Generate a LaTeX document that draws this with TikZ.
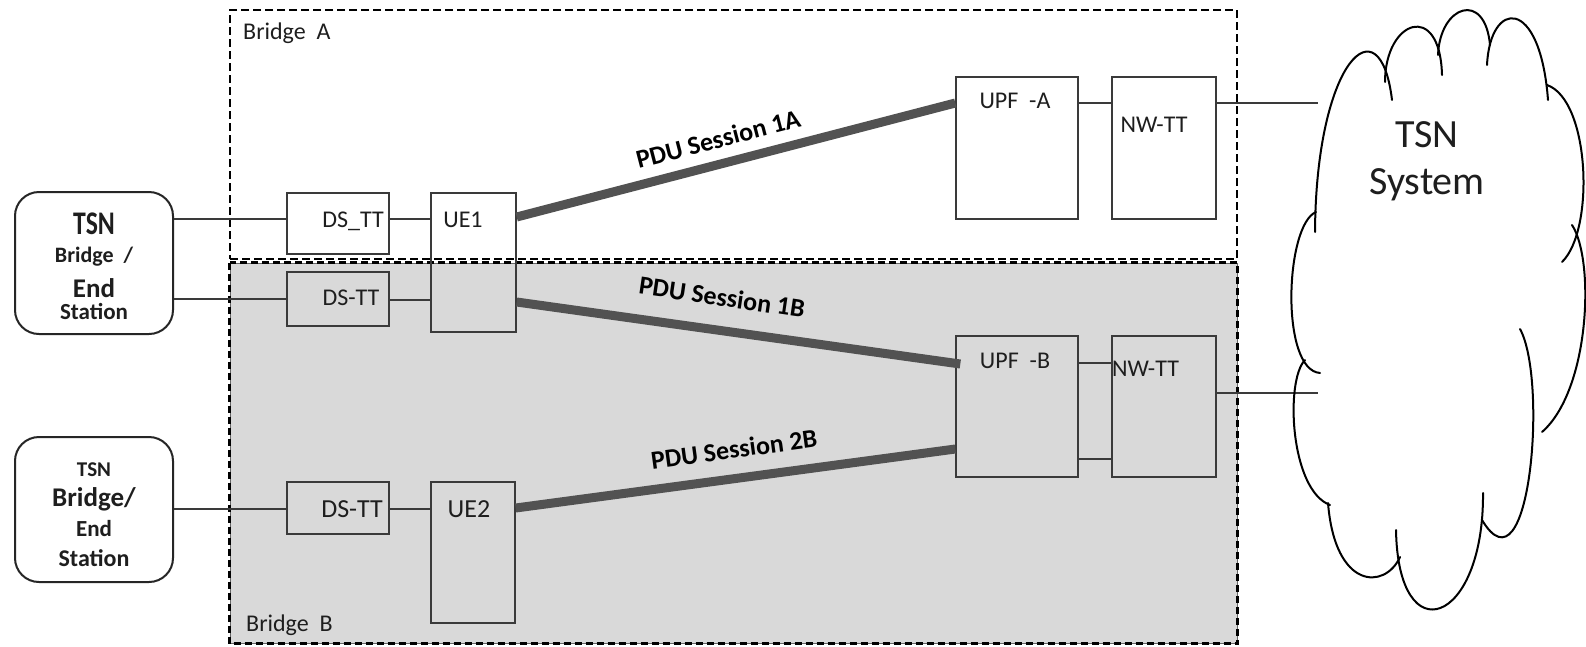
\documentclass[tikz,border=0pt]{standalone}
\usepackage{fontspec}
\setmainfont{Carlito}
\usepackage{graphicx}
\definecolor{boxc}{HTML}{3A3A3A}
\definecolor{bfill}{HTML}{D9D9D9}
\definecolor{pduc}{HTML}{525252}
\definecolor{txt}{HTML}{1E1E1E}
\newcommand{\fs}[2]{\fontsize{#1}{#2}\selectfont}
\begin{document}
\begin{tikzpicture}[x=1pt,y=-1pt,
  box/.style={draw=boxc, line width=1.4pt, inner sep=0pt},
  tsnbox/.style={draw=black!85, line width=2pt, rounded corners=24pt, inner sep=0pt, minimum width=158pt},
  lbl/.style={inner sep=0pt, text=txt, font=\fs{24}{28}, anchor=base},
  lblbig/.style={lbl, font=\fs{26}{30}},
  conn/.style={draw=boxc, line width=1.3pt},
  tconn/.style={draw=boxc, line width=2.6pt},
  pdu/.style={draw=pduc, line width=9pt},
  pdulbl/.style={inner sep=0pt, text=black, font=\fs{26}{30}\bfseries},
  cloudline/.style={draw=black, line width=2pt, line cap=round},
]
\useasboundingbox (0,0) rectangle (1586,646);
\fill[white] (0,0) rectangle (1586,646);

% Bridges
\node[fill=bfill, draw=black!60, line width=1pt, minimum width=1007pt, minimum height=380pt, inner sep=0pt] (brB) at (733.5,453) {};
\draw[black, line width=2.5pt, dash pattern=on 7pt off 4pt] (brB.north west) rectangle (brB.south east);
\node[draw=black, line width=2.5pt, dash pattern=on 8pt off 4pt, minimum width=1007pt, minimum height=249pt, inner sep=0pt] (brA) at (733.5,134.5) {};
\node[lbl, anchor=base west] (tBA) at (243,39) {Bridge\ \ A};
\node[lbl, anchor=base west] (tBB) at (246,631) {Bridge\ \ B};

% TSN boxes
\node[tsnbox, minimum height=142pt] (tsn1) at (94,263) {};
\node[tsnbox, minimum height=145pt] (tsn2) at (94,509.5) {};
\node[inner sep=0pt, align=center, text=txt, font=\fs{24}{28}\bfseries] (ttsn1) at (94,266.5)
  {\scalebox{0.78}[1]{\fs{33}{28}\bfseries TSN}\\[0pt]
   {\fs{22}{28}\bfseries Bridge\ \ /}\\[7pt]
   {\fs{27}{28}\bfseries End}\\[-6pt]
   {\fs{23}{28}\bfseries Station}};
\node[inner sep=0pt, align=center, text=txt, font=\fs{24}{30}\bfseries] (ttsn2) at (94,515)
  {{\fs{21}{30}\bfseries TSN}\\
   {\fs{27}{30}\bfseries Bridge/}\\
   {\fs{23}{30}\bfseries End}\\
   {\fs{24}{30}\bfseries Station}};

% inner boxes
\node[box, minimum width=102pt, minimum height=61pt] (ds1) at (338,223.5) {};
\node[box, minimum width=85pt, minimum height=139pt] (ue1) at (473.5,262.5) {};
\node[box, minimum width=102pt, minimum height=54pt] (ds2) at (338,299) {};
\node[box, minimum width=102pt, minimum height=52pt] (ds3) at (338,508) {};
\node[box, minimum width=84pt, minimum height=141pt] (ue2) at (473,552.5) {};
\node[box, minimum width=122pt, minimum height=142pt] (upfA) at (1017,148) {};
\node[box, minimum width=104pt, minimum height=142pt] (nwA) at (1164,148) {};
\node[box, minimum width=122pt, minimum height=141pt] (upfB) at (1017,406.5) {};
\node[box, minimum width=104pt, minimum height=141pt] (nwB) at (1164,406.5) {};

\node[lbl] (tds1) at (353,227) {DS\_TT};
\node[lbl] (tue1) at (463,227) {UE1};
\node[lbl] (tds2) at (351,305) {DS-TT};
\node[lblbig] (tds3) at (352,517) {DS-TT};
\node[lblbig] (tue2) at (469,517) {UE2};
\node[lbl] (tupA) at (1015,108) {UPF\ \ -A};
\node[lbl] (tnwA) at (1154,132) {NW-TT};
\node[lbl] (tupB) at (1015,368) {UPF\ \ -B};
\node[lbl] (tnwB) at (1145.5,376) {NW-TT};

% connectors
\draw[tconn] (tsn1.east |- 0,219) -- (brA.west |- 0,219);
\draw[conn] (brA.west |- 0,219) -- (ds1.west |- 0,219);
\draw[tconn] (tsn1.east |- 0,299) -- (brB.west |- 0,299);
\draw[conn] (brB.west |- 0,299) -- (ds2.west);
\draw[tconn] (tsn2.east |- 0,509) -- (brB.west |- 0,509);
\draw[conn] (brB.west |- 0,509) -- (ds3.west |- 0,509);
\draw[conn] (ds1.east |- 0,219) -- (ue1.west |- 0,219);
\draw[conn] (ds2.east |- 0,300) -- (ue1.west |- 0,300);
\draw[conn] (ds3.east |- 0,509) -- (ue2.west |- 0,509);
\draw[conn] (upfA.east |- 0,103) -- (nwA.west |- 0,103);
\draw[conn] (upfB.east |- 0,363) -- (nwB.west |- 0,363);
\draw[conn] (upfB.east |- 0,459) -- (nwB.west |- 0,459);
\coordinate (cinA) at (1318,103);
\coordinate (cinB) at (1318,393);
\draw[conn] (nwA.east |- 0,103) -- (cinA);
\draw[conn] (nwB.east |- 0,393) -- (cinB);

% PDU sessions
\draw[pdu] (ue1.east |- 0,217) -- (upfA.west |- 0,103);
\draw[pdu] (ue1.east |- 0,302) -- ([xshift=5pt]upfB.west |- 0,364);
\draw[pdu] (ue2.east |- 0,508) -- (upfB.west |- 0,449);
\node[pdulbl, rotate=14.5] (l1a) at (718,139) {PDU Session 1A};
\node[pdulbl, rotate=-8.3] (l1b) at (722,297) {PDU Session 1B};
\node[pdulbl, rotate=7.7] (l2b) at (734,449) {PDU Session 2B};

% cloud
\draw[cloudline] (1315,232) .. controls (1316,60) and (1380,0) .. (1392,100);
\draw[cloudline] (1385,82) .. controls (1385,20) and (1440,0) .. (1442,75);
\draw[cloudline] (1438,55) .. controls (1440,5) and (1485,-10) .. (1490,45);
\draw[cloudline] (1487,65) .. controls (1490,0) and (1540,-5) .. (1548,100);
\draw[cloudline] (1547,85) .. controls (1590,100) and (1595,230) .. (1562,262);
\draw[cloudline] (1572,225) .. controls (1595,260) and (1590,390) .. (1542,432);
\draw[cloudline] (1520,329) .. controls (1548,380) and (1530,600) .. (1482,520);
\draw[cloudline] (1483,493) .. controls (1484,625) and (1398,655) .. (1396,530);
\draw[cloudline] (1400,557) .. controls (1385,590) and (1335,590) .. (1328,503);
\draw[cloudline] (1330,505) .. controls (1290,490) and (1285,380) .. (1305,360);
\draw[cloudline] (1316,212) .. controls (1285,225) and (1280,370) .. (1320,373);
\node[inner sep=0pt, align=center, text=txt, font=\fs{40}{47}] (tsys) at (1427,161.5) {TSN\\System};
\end{tikzpicture}
\end{document}
